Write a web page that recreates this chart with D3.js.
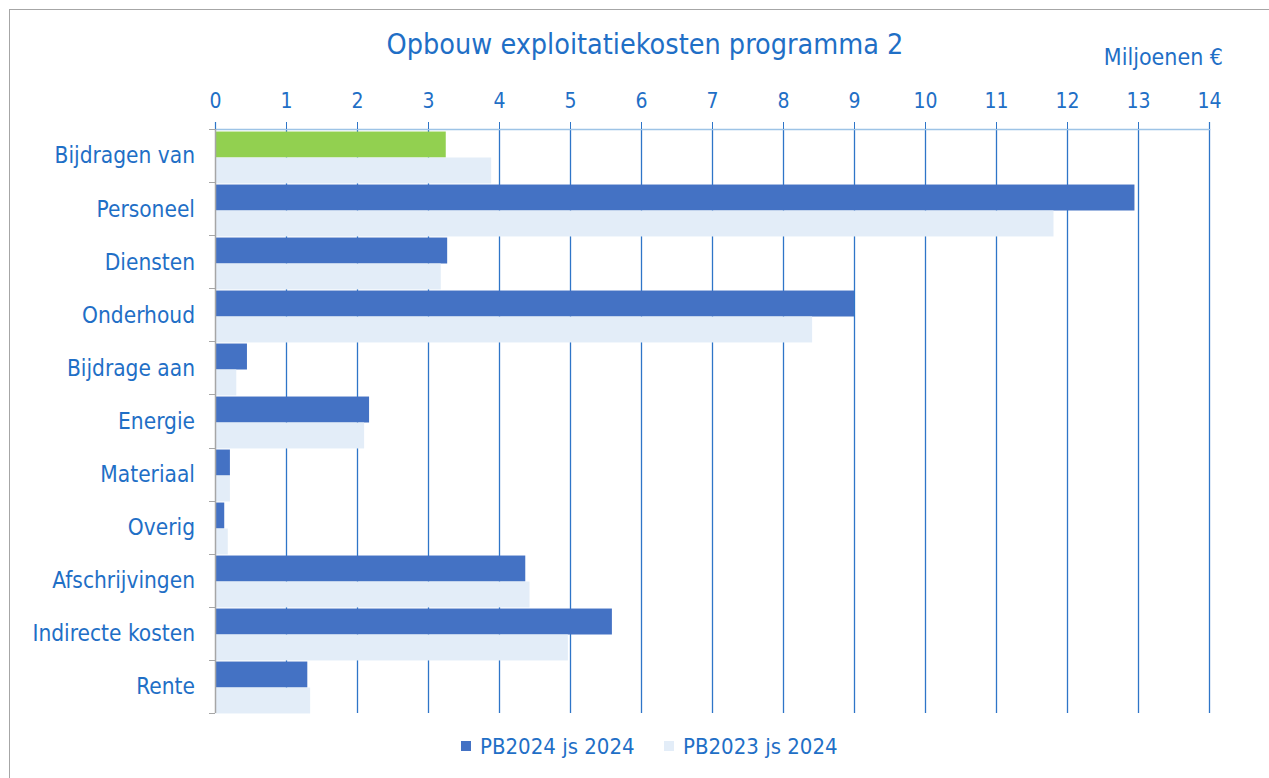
<!DOCTYPE html>
<html><head><meta charset="utf-8">
<script src="https://cdn.jsdelivr.net/npm/d3@7"></script>
<style>
html,body{margin:0;padding:0;background:#fff;}
text{font-family:"Liberation Sans Narrow","DejaVu Sans Condensed","Roboto Condensed",Roboto,sans-serif;fill:#1F6FC6;}
</style></head>
<body>
<svg id="chart" width="1269" height="778"></svg>
<script>
const categories = ["Bijdragen van","Personeel","Diensten","Onderhoud","Bijdrage aan","Energie","Materiaal","Overig","Afschrijvingen","Indirecte kosten","Rente"];
const pb2024 = [3.25, 12.95, 3.27, 9.0, 0.45, 2.17, 0.21, 0.13, 4.37, 5.59, 1.30];
const pb2023 = [3.89, 11.81, 3.18, 8.41, 0.30, 2.10, 0.21, 0.18, 4.43, 4.97, 1.34];
const seriesNames = ["PB2024 js 2024","PB2023 js 2024"];
const xTicks = d3.range(0, 15, 1);
const title = "Opbouw exploitatiekosten programma 2";
const unitLabel = "Miljoenen €";

const colDark = "#4472C4", colLight = "#E3EDF8", colGreen = "#92D050";
const svg = d3.select("#chart");
svg.append("rect").attr("x",9.5).attr("y",9.5).attr("width",1400).attr("height",900)
  .attr("fill","#fff").attr("stroke","#A6A6A6");

const L = 215, R = 1209, T = 129, B = 713;
const x = d3.scaleLinear().domain([0,14]).range([L,R]);
const y = d3.scaleBand().domain(categories).range([T+2,B+1]).paddingInner(0.02).paddingOuter(0.01);
const y0 = d3.scaleBand().domain(categories).range([T,B]);
const sub = d3.scaleBand().domain([0,1]).range([0,y.bandwidth()]);

// grid lines
svg.append("g").selectAll("line").data(xTicks.slice(1)).join("line")
  .attr("x1",d=>Math.round(x(d))+0.5).attr("x2",d=>Math.round(x(d))+0.5)
  .attr("y1",T).attr("y2",B).attr("stroke","#2E75C8").attr("stroke-width",1.3);

// top axis
const gx = svg.append("g").attr("transform",`translate(0,${T})`)
  .call(d3.axisTop(x).tickValues(xTicks).tickSize(7).tickPadding(14).tickFormat(d3.format("d")));
gx.select(".domain").attr("stroke","#9DC3E6").attr("stroke-width",1.5);
gx.selectAll(".tick line").attr("stroke","#2E75C8");
gx.selectAll("text").style("font-size","21px").attr("fill","#1F6FC6");

// bars
const groups = svg.append("g").selectAll("g").data(categories).join("g")
  .attr("transform",d=>`translate(0,${y(d)})`);
groups.append("rect").attr("x",x(0)).attr("y",sub(0))
  .attr("width",(d,i)=>x(pb2024[i])-x(0)).attr("height",sub.bandwidth())
  .attr("fill",(d,i)=>i===0?colGreen:colDark);
groups.append("rect").attr("x",x(0)).attr("y",sub(1))
  .attr("width",(d,i)=>x(pb2023[i])-x(0)).attr("height",sub.bandwidth())
  .attr("fill",colLight);

// left axis
const gy = svg.append("g").attr("transform",`translate(${L},0)`);
gy.append("line").attr("x1",0.5).attr("x2",0.5).attr("y1",T).attr("y2",B).attr("stroke","#A6A6A6").attr("stroke-width",1.5);
const bounds = categories.map(c=>y0(c)).concat([B]);
gy.selectAll("line.tk").data(bounds).join("line").attr("class","tk")
  .attr("x1",-6).attr("x2",0).attr("y1",d=>Math.round(d)+0.5).attr("y2",d=>Math.round(d)+0.5).attr("stroke","#A6A6A6");
gy.selectAll("text").data(categories).join("text")
  .attr("x",-20).attr("y",d=>y0(d)+y0.bandwidth()/2).attr("dy","0.35em")
  .attr("text-anchor","end").style("font-size","22.5px").text(d=>d);

// title
svg.append("text").attr("x",645).attr("y",54).attr("text-anchor","middle")
  .style("font-size","28.5px").text(title);
svg.append("text").attr("x",1223).attr("y",65).attr("text-anchor","end")
  .style("font-size","23px").text(unitLabel);

// legend
const leg = svg.append("g");
const legItems = [{n:seriesNames[0],c:colDark,x:461},{n:seriesNames[1],c:colLight,x:664}];
legItems.forEach(it=>{
  leg.append("rect").attr("x",it.x).attr("y",741).attr("width",10).attr("height",10).attr("fill",it.c);
  leg.append("text").attr("x",it.x+19).attr("y",746).attr("dy","0.35em").style("font-size","22px").text(it.n);
});
</script>
</body></html>
